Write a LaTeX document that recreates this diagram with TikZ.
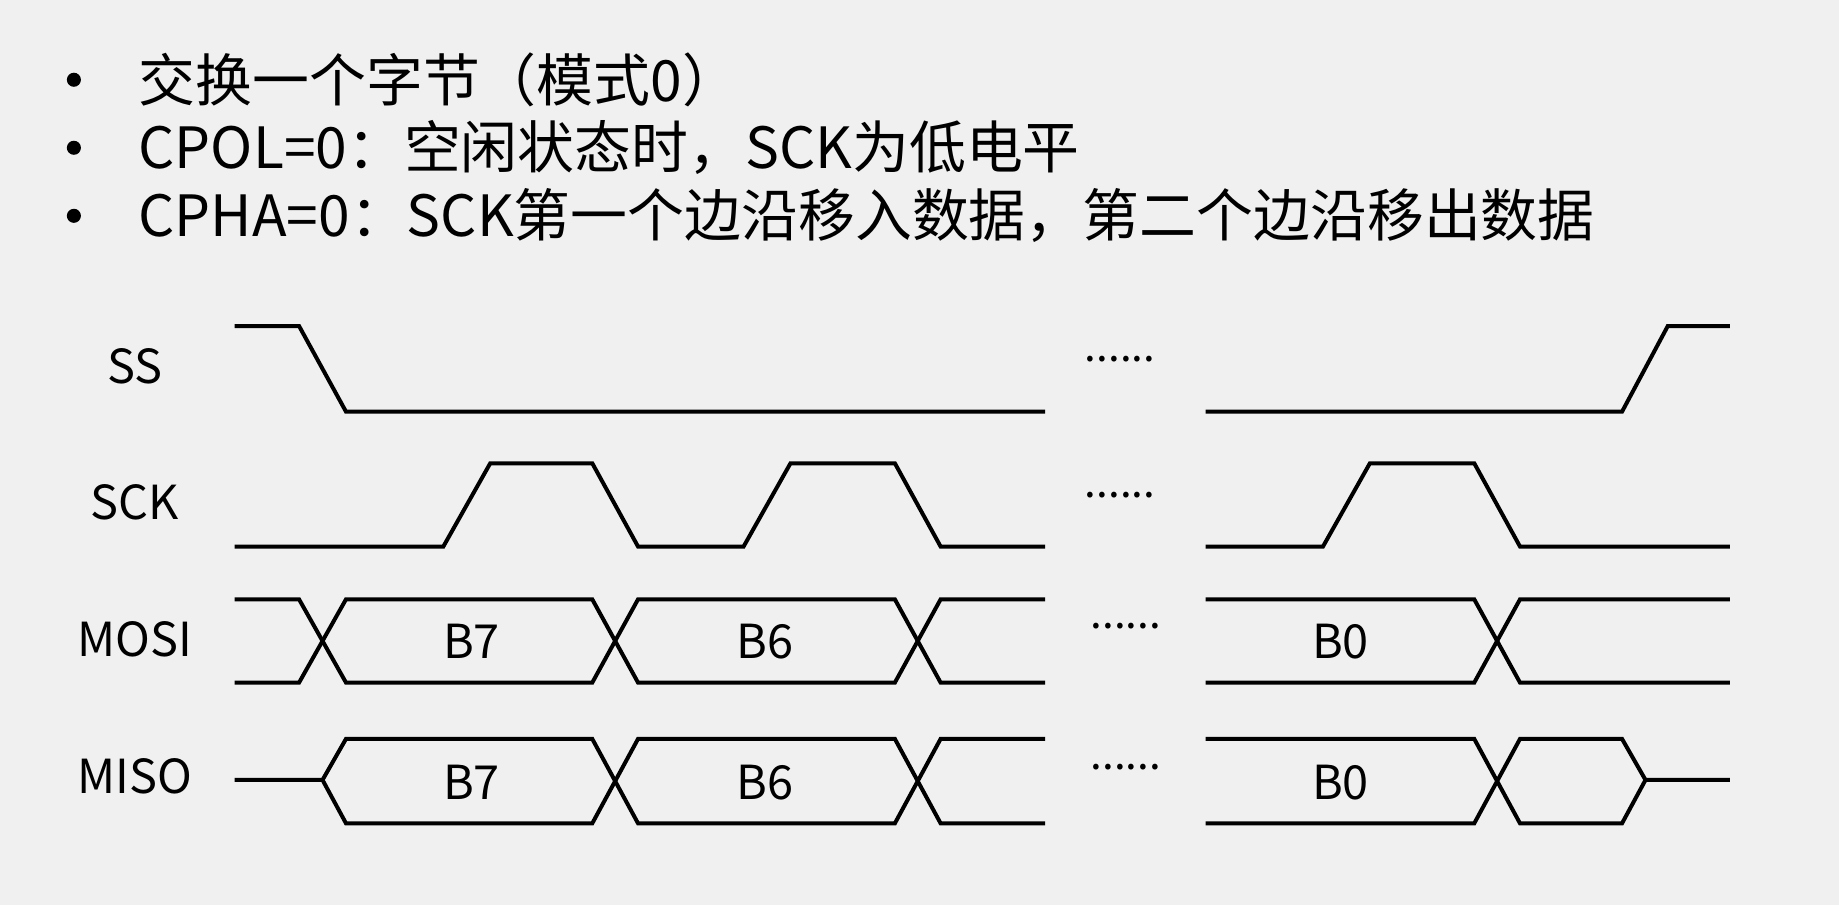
\documentclass[tikz,border=0pt]{standalone}
\usepackage{fontspec}
\setmainfont{Noto Sans CJK SC}
\begin{document}
\begin{tikzpicture}[x=1pt,y=-1pt,
  sig/.style={line width=3.4pt,line join=miter},
  lbl/.style={font=\fontsize{40}{40}\selectfont,inner sep=0pt},
  bul/.style={font=\fontsize{48.5}{48}\selectfont,inner sep=0pt,anchor=west},
  dots/.style={font=\fontsize{36}{36}\selectfont,inner sep=0pt}]
\fill[fill={rgb,255:red,240;green,240;blue,240}] (0,0) rectangle (1568,772);
\useasboundingbox (0,0) rectangle (1568,772);
% bullets
\foreach \y/\t [count=\i] in {68/交换一个字节（模式0）,126/CPOL=0：空闲状态时，SCK为低电平,184/CPHA=0：SCK第一个边沿移入数据，第二个边沿移出数据}{
  \fill (63,\y) circle (6);
  \node[bul] (b\i) at (118,\y) {\t};
}
% labels
\node[lbl] (lss) at (115,312) {SS};
\node[lbl] (lsck) at (115,428) {SCK};
\node[lbl] (lmosi) at (115,545) {MOSI};
\node[lbl] (lmiso) at (115,662) {MISO};
% SS
\draw[sig] (200,278)--(255,278)--(295,351)--(891,351);
\draw[sig] (1028,351)--(1383,351)--(1422,278)--(1475,278);
\node[dots] (d1) at (955,306) {......};
% SCK
\draw[sig] (200,466)--(378,466)--(418,395)--(505,395)--(544,466)--(634,466)--(674,395)--(763,395)--(802,466)--(891,466);
\draw[sig] (1028,466)--(1128,466)--(1168,395)--(1257,395)--(1296,466)--(1475,466);
\node[dots] (d2) at (955,422) {......};
% MOSI
\draw[sig] (200,511)--(255,511)--(295,582)--(505,582)--(544,511)--(763,511)--(802,582)--(891,582);
\draw[sig] (200,582)--(255,582)--(295,511)--(505,511)--(544,582)--(763,582)--(802,511)--(891,511);
\draw[sig] (1028,511)--(1257,511)--(1296,582)--(1475,582);
\draw[sig] (1028,582)--(1257,582)--(1296,511)--(1475,511);
\node[lbl] (m7) at (402,547) {B7};
\node[lbl] (m6) at (652,547) {B6};
\node[lbl] (m0) at (1143,547) {B0};
\node[dots] (d3) at (960,534) {......};
% MISO
\draw[sig] (200,665)--(275,665)--(295,630)--(505,630)--(544,702)--(763,702)--(802,630)--(891,630);
\draw[sig] (275,665)--(295,702)--(505,702)--(544,630)--(763,630)--(802,702)--(891,702);
\draw[sig] (1028,630)--(1257,630)--(1296,702)--(1383,702)--(1403,665)--(1475,665);
\draw[sig] (1028,702)--(1257,702)--(1296,630)--(1383,630)--(1403,665);
\node[lbl] (s7) at (402,667) {B7};
\node[lbl] (s6) at (652,667) {B6};
\node[lbl] (s0) at (1143,667) {B0};
\node[dots] (d4) at (960,654) {......};
\end{tikzpicture}
\end{document}
